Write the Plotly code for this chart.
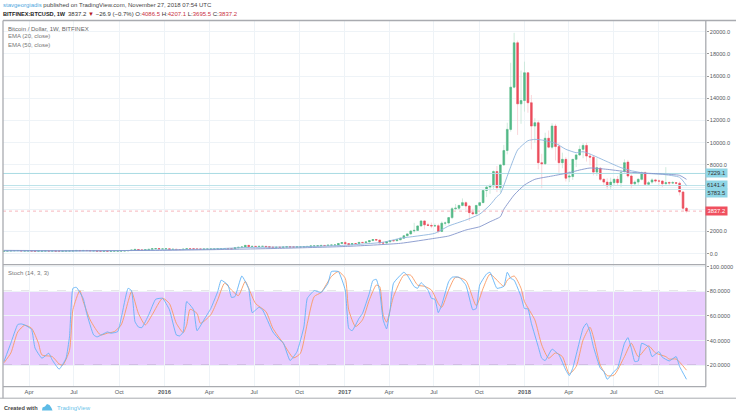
import datetime as dt
import plotly.graph_objects as go
from plotly.subplots import make_subplots

start = dt.date(2015, 2, 9)

closes = [235,245,275,275,285,245,250,255,235,222,226,240,240,237,240,225,225,235,245,250,258,290,275,290,280,262,265,230,228,240,230,232,235,240,248,265,285,325,375,330,325,360,390,450,460,425,430,
445,380,400,375,372,405,440,435,415,415,410,415,420,420,428,450,460,460,455,445,530,575,610,750,640,660,650,660,660,625,590,570,580,575,600,620,610,605,615,620,640,655,700,700,710,745,735,770,780,790,920,1000,
910,820,920,915,1020,1000,1060,1180,1270,1230,970,960,1080,1180,1170,1250,1400,1620,1780,2050,2100,2500,2950,2600,2550,2500,2520,2000,2750,2770,3250,4050,4100,4350,4600,4300,3700,3600,4350,4600,5700,6000,6100,7400,5950,8000,9300,11200,15000,19000,13500,13800,
16300,13600,11500,11800,8200,8100,10400,9600,11500,9650,8200,8500,6800,7000,8500,8900,9400,9750,8800,8700,7350,7750,6700,6450,6100,6450,6700,6400,7300,8200,7000,6300,6450,6700,7300,6250,6400,6650,6560,6540,6300,6400,6360,6400,6350,5560,4086.5,3837.2]

opens = [220,235,245,275,275,285,245,250,255,235,222,226,240,240,237,240,225,225,235,245,250,258,290,275,290,280,262,265,230,228,240,230,232,235,240,248,265,285,325,375,330,325,360,390,450,460,425,
430,445,380,400,375,372,405,440,435,415,415,410,415,420,420,428,450,460,460,455,445,530,575,610,750,640,660,650,660,660,625,590,570,580,575,600,620,610,605,615,620,640,655,700,700,710,745,735,770,780,790,920,
1000,910,820,920,915,1020,1000,1060,1180,1270,1230,970,960,1080,1180,1170,1250,1400,1620,1780,2050,2100,2500,2950,2600,2550,2500,2520,2000,2750,2770,3250,4050,4100,4350,4600,4300,3700,3600,4350,4600,5700,6000,6100,7400,5950,8000,9300,11200,15000,19000,13500,
13800,16300,13600,11500,11800,8200,8100,10400,9600,11500,9650,8200,8500,6900,6950,8500,8900,9400,9750,8800,8700,7350,7700,6700,6450,6100,6400,6700,6400,7400,8250,7000,6300,6450,6700,7300,6250,6450,6650,6560,6550,6300,6420,6360,6400,6350,5560,4086.5]

highs = [245,262,278,300,300,295,255,262,260,237,238,245,248,245,243,242,233,237,252,254,268,315,295,298,298,285,270,268,233,245,244,235,238,243,250,270,288,335,495,385,340,370,400,460,470,465,438,
460,448,405,400,378,410,445,445,440,420,418,420,424,425,430,452,470,465,462,450,535,590,618,780,770,680,680,670,680,660,610,595,590,580,612,630,618,612,620,625,642,660,720,745,725,760,755,775,785,795,925,1020,
1150,920,930,925,1030,1060,1065,1200,1285,1330,1250,1120,1110,1210,1225,1270,1425,1640,1850,2060,2780,2550,3000,2990,2780,2800,2720,2700,2900,2900,3280,4200,4480,4400,4980,4720,4380,4050,4380,4620,5850,6150,6300,7500,7900,8100,9800,11800,17200,19900,19200,16500,
17300,16300,14300,12200,12000,9000,10900,11100,11750,11700,10000,9100,8700,7450,8500,9000,9750,9950,10000,9000,8850,8600,7800,6800,6800,6850,6800,7000,7550,8500,8450,7150,6600,6800,7400,7410,6550,6800,6750,6700,6600,7800,6500,6550,6450,6500,5650,4207.1]

lows = [210,230,235,260,270,240,235,240,230,215,218,220,232,232,233,222,218,222,232,240,242,260,265,272,276,258,258,195,205,225,225,226,225,234,240,245,262,280,325,300,310,320,355,385,445,420,418,
425,360,372,368,360,370,400,405,412,405,405,410,413,415,420,425,445,445,447,438,440,515,570,605,565,620,625,650,650,590,470,560,565,565,570,590,600,600,595,605,615,635,650,680,690,700,715,725,760,770,785,875,
750,750,810,880,905,970,985,1050,1160,1200,930,890,915,1020,1120,1160,1230,1380,1560,1750,1900,2050,2450,2180,2480,2300,2480,1840,1950,2530,2640,3120,3950,3950,4280,3980,2950,3500,3550,4280,4570,5100,5400,5800,5550,5500,7950,8950,11000,14900,10700,11700,
12800,12700,9400,10000,7600,5900,8000,9500,9400,8400,7300,7700,6500,6450,6650,7800,8800,8600,8300,7950,7050,7000,6550,6100,5800,5800,6100,6100,6000,7300,6850,5900,6150,6200,6600,6100,6100,6300,6400,6200,6000,6250,6200,6300,6250,5250,3900,3695.5]

ema20_week = [0,20,30,46,60,70,85,99,110,115,125,129,134,138,141,143,144,147,149,152,154,156,160,163,166,168,170,175,179,182,186,191,196,198]
ema20_vals = [250,240,262,345,420,555,620,760,1030,1390,1840,2495,3036,3560,4386,5135,5400,7838,9342,10180,10300,10243,9946,9405,9100,9190,8980,8290,7750,7477,7243,7150,6880,6141.4]
ema50_week = [0,20,46,60,80,99,115,125,129,134,138,141,144,145,148,151,154,159,164,167,170,175,182,187,191,196,198]
ema50_vals = [300,270,300,360,480,650,935,1390,1595,2135,2430,2880,3333,4000,5290,6190,6700,7000,7300,7540,7720,7600,7333,7243,7180,7060,6700]

stoch_k_week = [0,2,4,5,6,8,9,11,13,14,16,18,19,20,21,23,24,26,27,30,31,33,34,36,37,38,39,40,42,44,46,48,50,51,52,53,55,56,58,60,62,63,65,66,67,69,71,72,74,75,78,80,81,83,85,87,88,90,92,94,95,97,99,100,101,103,104,106,107,108,109,110,111,112,113,116,117,119,120,121,123,124,125,126,127,129,130,132,134,136,137,138,140,141,143,145,146,147,148,150,151,152,153,155,156,157,159,161,163,164,165,168,169,170,171,173,174,175,177,178,180,181,182,183,184,185,187,188,190,191,193,195,196,198]
stoch_k_vals = [23,38,53,53.5,52.7,49,34,25.7,29.7,24.3,16.8,25.7,43,82.4,83.2,74,62,44.6,43,47,46,47.3,58,82.4,80.5,55.4,51,50.5,61,73.5,74.3,65,44.6,43.8,47,71.6,65,48,56.8,66,79.7,89,85,75,75.7,92.4,82,62.7,67,65,47,40.5,38.4,23.8,31,51,74.3,80.5,79,86.5,96,96,81,50,48,58,62,78.4,88.6,89.7,80,56.8,49.5,65,86.5,95.4,93,83.8,82.4,87,81,74.3,73.5,62.7,69,87.8,91.4,91.4,85,65,66,85,94,95.4,82.4,84,95.4,90.5,89,75.7,66,65.7,54,35,25.7,23.8,33,28.4,16,11.6,17.6,50,54,47,35,17.6,15,8.6,15,17.6,37.8,42.4,33.8,23,23.5,37.8,35,27,31,26.5,23.5,27,19,8.6]
stoch_d_week = [0,2,4,6,8,10,11,14,16,17,19,20,22,23,25,28,30,32,34,36,37,39,41,43,46,48,50,52,53,54,56,57,60,62,64,66,68,70,71,73,76,78,81,84,86,88,90,92,95,97,99,100,102,104,106,108,109,110,111,113,116,118,120,122,124,126,127,129,131,134,137,139,141,145,146,148,150,151,154,156,158,160,162,164,166,168,170,171,173,175,177,180,182,184,187,189,192,193,195,198]
stoch_d_vals = [22,30,47,52.4,50,37.8,28.4,27,21,20,32,65,80.5,71.6,56.8,44.6,46,47.3,52.7,71.6,79.7,62,52.7,61,74.3,70,54,46.5,52.7,65.4,62,54,61,73,86.5,81,76.5,88,82.4,70,63.5,50,37.8,26,29.7,54,75.7,79,92,96,90.5,65,51.4,56.8,73,85,83.8,61,55,75.7,93,93,85,84,81,70,67,81,91.4,88.6,68.4,82.4,93.8,84,89,92.4,82.4,71.6,56.8,36.5,25.7,30,27,13,19,40.5,50.8,43,20,11.6,12,27,37.8,27,35.7,30,27,25,25,16]

tick_dates = ["2015-04-01","2015-07-01","2015-10-01","2016-01-01","2016-04-01","2016-07-01","2016-10-01","2017-01-01","2017-04-01","2017-07-01","2017-10-01","2018-01-01","2018-04-01","2018-07-01","2018-10-01"]
tick_labels = ["Apr","Jul","Oct","<b>2016</b>","Apr","Jul","Oct","<b>2017</b>","Apr","Jul","Oct","<b>2018</b>","Apr","Jul","Oct"]
price_ticks = [0,2000,4000,6000,8000,10000,12000,14000,16000,18000,20000]
price_labels = ["0.0","2000.0","","","8000.0","10000.0","12000.0","14000.0","16000.0","18000.0","20000.0"]
stoch_ticks = [20,40,60,80,100]
stoch_labels = ["20.0000","40.0000","60.0000","80.0000","100.0000"]
level_values = [7229.1, 6141.4, 5783.5]
last_price = 3837.2
x_range = ["2015-02-07", "2019-01-04"]

def wk(i):
    return start + dt.timedelta(days=7 * i)

dates = [wk(i) for i in range(len(closes))]
GREEN, RED = "#53b987", "#eb4d5c"
GREEN_W, RED_W = "#c4e6d6", "#f9cdd2"
GRID = "#eef3f7"
FRAME = "#a9abb0"
TXT = "#555a60"

fig = make_subplots(rows=2, cols=1, shared_xaxes=True, vertical_spacing=0, row_heights=[244, 122])

for v, c in zip(level_values, ["#a9dbe3", "#bde3ea", "#cfe9ef"]):
    fig.add_trace(go.Scatter(x=x_range, y=[v, v], mode="lines", line=dict(color=c, width=1), showlegend=False), row=1, col=1)

fig.add_trace(go.Candlestick(x=dates, open=opens, high=highs, low=lows, close=closes,
    increasing=dict(line=dict(color=GREEN_W, width=0.8), fillcolor=GREEN_W),
    decreasing=dict(line=dict(color=RED_W, width=0.8), fillcolor=RED_W),
    whiskerwidth=0, showlegend=False), row=1, col=1)
fig.add_trace(go.Candlestick(x=dates, open=opens, close=closes,
    high=[max(a, b) for a, b in zip(opens, closes)], low=[min(a, b) for a, b in zip(opens, closes)],
    increasing=dict(line=dict(color=GREEN, width=0.5), fillcolor=GREEN),
    decreasing=dict(line=dict(color=RED, width=0.5), fillcolor=RED),
    whiskerwidth=0, showlegend=False), row=1, col=1)
fig.add_trace(go.Scatter(x=[wk(i) for i in ema20_week], y=ema20_vals, mode="lines", line=dict(color="#8fb6de", width=0.9, shape="spline", smoothing=0.5), showlegend=False), row=1, col=1)
fig.add_trace(go.Scatter(x=[wk(i) for i in ema50_week], y=ema50_vals, mode="lines", line=dict(color="#8496cc", width=0.9, shape="spline", smoothing=0.5), showlegend=False), row=1, col=1)

fig.add_trace(go.Scatter(x=[wk(i) for i in stoch_d_week], y=stoch_d_vals, mode="lines", line=dict(color="#f99a62", width=0.9, shape="spline", smoothing=0.6), showlegend=False), row=2, col=1)
fig.add_trace(go.Scatter(x=[wk(i) for i in stoch_k_week], y=stoch_k_vals, mode="lines", line=dict(color="#62b3f7", width=0.9, shape="spline", smoothing=0.4), showlegend=False), row=2, col=1)

fig.add_trace(go.Scatter(x=x_range, y=[last_price, last_price], mode="lines", line=dict(color="#f5a3ab", width=0.8, dash="dot"), showlegend=False), row=1, col=1)

fig.add_shape(type="rect", xref="x2 domain", yref="y2", x0=0, x1=1, y0=20, y1=80, fillcolor="#e8ccfd", line_width=0, layer="below")
for v in (20, 80):
    fig.add_shape(type="line", xref="x2 domain", yref="y2", x0=0, x1=1, y0=v, y1=v, line=dict(color="#80808a", width=0.8, dash="dash"), layer="below")

W, H = 736, 416
def px(x): return x / W
def py(y): return 1 - y / H

fig.update_layout(width=W, height=H, margin=dict(l=0, r=0, t=0, b=0), paper_bgcolor="white", plot_bgcolor="white",
                  font=dict(family="Liberation Sans, Arial", size=6, color=TXT), showlegend=False)
fig.update_xaxes(range=x_range, tickmode="array", tickvals=tick_dates, rangeslider_visible=False,
                 showgrid=True, gridcolor=GRID, gridwidth=0.8, zeroline=False, showline=False, domain=[px(3), px(705.7)])
fig.update_xaxes(ticktext=["" for _ in tick_labels], ticklen=0, row=1, col=1)
fig.update_xaxes(ticktext=tick_labels, ticks="", ticklen=0, tickfont=dict(size=5.8, color=TXT), row=2, col=1)
fig.update_yaxes(side="right", showgrid=True, gridcolor=GRID, gridwidth=0.8, zeroline=False, showline=False,
                 ticks="outside", ticklen=2, tickcolor="#999", tickwidth=0.6, tickfont=dict(size=5.6, color=TXT))
fig.update_yaxes(domain=[py(264.5), py(20.5)], range=[-973, 21009], tickmode="array", tickvals=price_ticks, ticktext=price_labels, row=1, col=1)
fig.update_yaxes(domain=[py(386.7), py(264.5)], range=[2.6, 101.7], tickmode="array", tickvals=stoch_ticks, ticktext=stoch_labels, row=2, col=1)

def hline(x0, x1, y, w=1.3):
    fig.add_shape(type="line", xref="paper", yref="paper", x0=px(x0), x1=px(x1), y0=py(y), y1=py(y), line=dict(color=FRAME, width=w), layer="above")
def vline(x, y0, y1, w=1.3):
    fig.add_shape(type="line", xref="paper", yref="paper", x0=px(x), x1=px(x), y0=py(y0), y1=py(y1), line=dict(color=FRAME, width=w), layer="above")
hline(3, 736, 20.5)
hline(3, 706, 264.6)
hline(3, 706, 386.7)
hline(0, 736, 398.2, 1.0)
vline(3, 20.5, 398.2)
vline(705.8, 20.5, 386.7)

def note(x, y, text, size=6, color=TXT):
    fig.add_annotation(xref="paper", yref="paper", x=px(x), y=py(y), text=text, showarrow=False,
                       xanchor="left", yanchor="middle", font=dict(size=size, color=color), align="left")

RD = "#c9303e"
note(0.5, 5, "<span style='color:#4fa8e0'>stavgeorgiadis</span> published on TradingView.com, November 27, 2018 07:54 UTC", 6.0, "#444")
note(0.5, 14, "<b style='color:#222'>BITFINEX:BTCUSD, 1W</b>", 5.6, "#222")
note(65.5, 14, f"{last_price} <span style='color:#b71c1c'>▼</span> −26.9 (−0.7%) O:<span style='color:{RD}'>4086.5</span> H:<span style='color:{RD}'>4207.1</span> L:<span style='color:{RD}'>3695.5</span> C:<span style='color:{RD}'>3837.2</span>", 6.0, "#333")
note(5.5, 29, "Bitcoin / Dollar, 1W, BITFINEX", 6.0, "#666")
note(5.5, 36.5, "EMA (20, close)", 6.0, "#777")
note(5.5, 44.5, "EMA (50, close)", 6.0, "#777")
note(5.5, 272.5, "Stoch (14, 3, 3)", 6.0, "#777")
note(1.5, 407.5, "<b>Created with</b>", 5.6, "#444")
note(54.5, 407.5, "TradingView", 6.0, "#6cc4ea")

fig.add_shape(type="path", xref="paper", yref="paper", layer="above", line_width=0, fillcolor="#5dbbe6",
    path=" ".join(f"{c} {px(a)},{py(b)}" for c, a, b in [("M",42,410.5),("L",42.5,407.5),("L",45,406.5),("L",47,404),("L",49.5,405),("L",51.5,408),("L",52.5,410.5)]) + " Z")

for val, y_pix in zip(level_values, [173.4, 185.2, 193.2]):
    fig.add_annotation(xref="paper", yref="paper", x=px(716.5), y=py(y_pix), text=f"{val}", showarrow=False, bgcolor="#8fd6e6",
                       font=dict(size=5.8, color="#333"), borderpad=0.8, xanchor="center", yanchor="middle", width=19)
fig.add_annotation(xref="paper", yref="y", x=px(716.5), y=last_price, text=f"{last_price}", showarrow=False, bgcolor="#f0505f",
                   font=dict(size=5.8, color="white"), borderpad=0.8, xanchor="center", yanchor="middle", width=19)

fig.write_html("out.html", config=dict(displayModeBar=False, responsive=False),
               post_script="document.body.style.margin='0';")
